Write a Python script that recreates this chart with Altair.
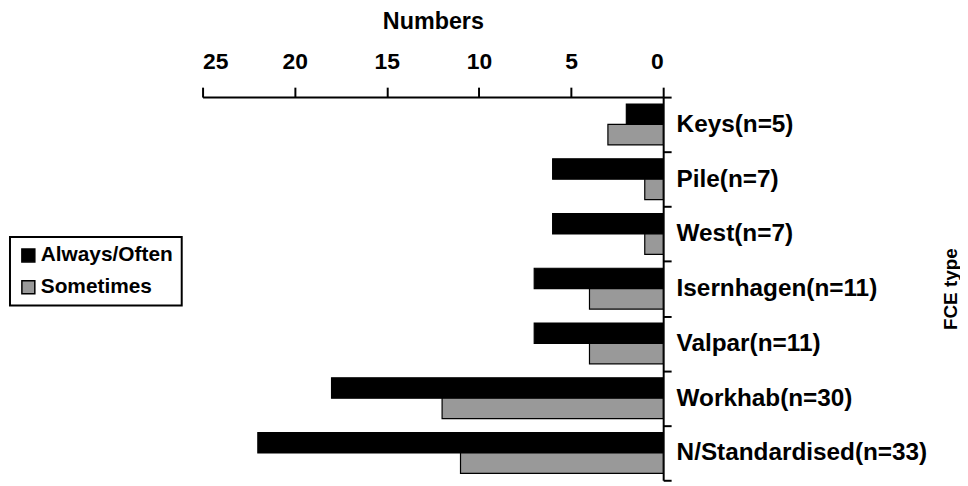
import altair as alt
import pandas as pd

categories = ["Keys(n=5)", "Pile(n=7)", "West(n=7)", "Isernhagen(n=11)",
              "Valpar(n=11)", "Workhab(n=30)", "N/Standardised(n=33)"]
series_names = ["Always/Often", "Sometimes"]
always_often = [2, 6, 6, 7, 7, 18, 22]
sometimes = [3, 1, 1, 4, 4, 12, 11]
x_ticks = [0, 5, 10, 15, 20, 25]

rows = []
for c, a, s in zip(categories, always_often, sometimes):
    rows.append({"cat": c, "series": series_names[0], "value": a})
    rows.append({"cat": c, "series": series_names[1], "value": s})
df = pd.DataFrame(rows)

FONT = "Liberation Sans"

chart = alt.Chart(df).mark_bar(stroke="black", strokeWidth=1.2).encode(
    x=alt.X("value:Q",
            scale=alt.Scale(domain=[0, 25], reverse=True, nice=False),
            axis=alt.Axis(orient="top", values=x_ticks, title="Numbers",
                          grid=False, tickSize=10, tickWidth=2, tickColor="black",
                          domainColor="black", domainWidth=2,
                          labelFont=FONT, labelFontSize=23, labelFontWeight="bold",
                          labelColor="black", labelPadding=14,
                          titleFont=FONT, titleFontSize=23.5, titleFontWeight="bold",
                          titleColor="black", titlePadding=17)),
    y=alt.Y("cat:N", sort=categories,
            scale=alt.Scale(paddingInner=0, paddingOuter=0),
            axis=alt.Axis(orient="right", title="FCE type", tickBand="extent",
                          tickSize=8, tickWidth=2, tickColor="black",
                          domainColor="black", domainWidth=2,
                          labelFont=FONT, labelFontSize=24.5, labelFontWeight="bold",
                          labelColor="black", labelPadding=5, labelLimit=400,
                          titleFont=FONT, titleFontSize=19, titleFontWeight="bold",
                          titleColor="black", titleAngle=270,
                          titleX=289, titleY=193, titleAlign="center",
                          titleBaseline="middle")),
    yOffset=alt.YOffset("series:N", sort=series_names,
                        scale=alt.Scale(paddingInner=0, paddingOuter=0.34)),
    color=alt.Color("series:N", sort=series_names,
                    scale=alt.Scale(domain=series_names, range=["#000000", "#999999"]),
                    legend=alt.Legend(title=None, orient="none", legendX=-194, legendY=141,
                                      fillColor="white",
                                      symbolType="square", symbolSize=170,
                                      symbolStrokeColor="black", symbolStrokeWidth=1.5,
                                      labelFont=FONT, labelFontSize=21, labelFontWeight="bold",
                                      labelColor="black", labelOffset=2)),
).properties(
    width=464, height=386,
    padding={"left": 1, "top": 0, "right": 0, "bottom": 0},
).configure_view(strokeWidth=0).configure_legend(
    strokeColor="black", strokeWidth=2, padding=8, rowPadding=10
)

chart.save("out.html", embed_options={"renderer": "svg", "actions": False})
